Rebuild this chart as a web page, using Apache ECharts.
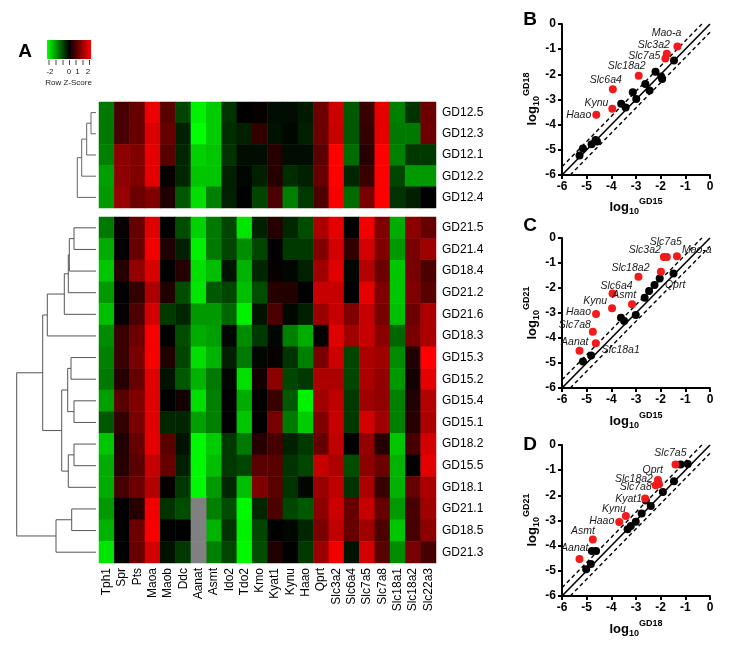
<!DOCTYPE html>
<html><head><meta charset="utf-8">
<script src="https://cdn.jsdelivr.net/npm/echarts@6/dist/echarts.min.js"></script>
<style>html,body{margin:0;padding:0;background:#fff}#main{width:732px;height:646px}</style>
</head><body><div id="main"></div>
<script>
// ---------------- DATA ----------------
const genes = ['Tph1','Spr','Pts','Maoa','Maob','Ddc','Aanat','Asmt','Ido2','Tdo2','Kmo','Kyat1','Kynu','Haao','Qprt','Slc3a2','Slc6a4','Slc7a5','Slc7a8','Slc18a1','Slc18a2','Slc22a3'];
const samplesTop = ['GD12.5','GD12.3','GD12.1','GD12.2','GD12.4'];
const samplesBottom = ['GD21.5','GD21.4','GD18.4','GD21.2','GD21.6','GD18.3','GD15.3','GD15.2','GD15.4','GD15.1','GD18.2','GD15.5','GD18.1','GD21.1','GD18.5','GD21.3'];

const zTop = [
 [-0.95,0.55,0.8,1.85,0.7,-0.55,-1.9,-1.6,-0.4,0,0.05,-0.1,-0.1,-0.2,0.85,1.6,-0.7,0.45,1.8,-1.0,-0.4,0.85],
 [-0.95,0.55,0.8,1.7,0.8,-0.25,-2.0,-1.6,-0.35,-0.25,0.4,-0.15,-0.05,-0.25,0.85,1.55,-0.7,0.4,1.8,-0.95,-0.95,0.85],
 [-1.0,1.1,1.0,1.8,0.7,-0.3,-1.65,-1.55,-0.4,-0.1,-0.1,0.3,-0.1,-0.1,0.7,2.0,-0.85,0.3,2.0,-1.0,-0.45,-0.45],
 [-1.25,1.1,1.0,1.8,0.05,-0.3,-1.55,-1.55,-0.25,-0.05,-0.25,0.3,-0.35,-0.25,0.8,2.0,-0.3,0.45,2.0,-0.55,-1.2,-1.2],
 [-1.2,1.2,0.85,1.0,0.25,-0.7,-1.75,-1.0,-0.25,0,-0.55,0.6,-1.0,-0.45,0.6,1.95,-0.85,0.95,2.0,-0.4,-0.25,0]
];
const zBottom = [
 [-0.95,0.05,0.8,1.75,0,-0.6,-1.65,-0.95,-0.55,-1.8,-0.25,0.3,-0.3,-0.6,1.35,1.8,0,1.9,1.0,-1.35,1.1,0.8],
 [-1.35,0,0.8,1.9,0.25,-0.25,-1.9,-0.95,-0.55,-1.1,-0.55,0,-0.45,-0.45,1.0,1.65,0.4,1.65,1.0,-1.2,0.95,1.25],
 [-1.55,0.3,1.15,1.7,0,0.3,-1.75,-1.5,-0.15,-1.4,-0.3,0.05,-0.05,-0.25,1.25,1.75,-0.05,1.4,0.85,-1.55,0.95,0.6],
 [-1.2,0,0.4,1.35,0.25,-0.6,-1.8,-0.7,-0.55,-1.5,-0.6,0.3,0.25,0,1.55,1.55,0,1.8,1.0,-1.55,1.0,0.7],
 [-1.5,0.05,0.6,1.65,-0.45,-0.3,-1.2,-1.2,-0.8,-1.9,-0.15,0.6,-0.05,-0.25,1.2,1.55,1.0,1.55,0.95,-1.5,0.85,1.35],
 [-1.1,0.45,0.85,1.95,0,-0.6,-1.35,-1.25,-0.05,-1.1,-0.45,-0.05,-1.0,-1.35,0,1.75,1.25,1.55,1.1,-0.8,0.95,1.35],
 [-1.0,0.45,0.95,1.95,0.25,-0.55,-1.75,-1.4,-0.25,-0.95,-0.05,0.05,-0.4,-1.0,0.95,1.6,-0.55,1.35,1.25,-1.1,0.25,2.0],
 [-0.95,0.3,0.8,1.75,-0.15,-0.7,-1.4,-0.95,-0.05,-1.75,0.15,1.1,-0.55,-0.45,1.35,1.35,-0.55,1.35,1.15,-1.2,0.15,1.8],
 [-1.25,0.7,1.0,1.75,0,0.15,-1.75,-1.0,0,-1.35,0,0.45,-0.7,-1.9,1.25,1.5,-0.45,1.25,1.15,-1.0,0.25,1.4],
 [-0.7,0.4,0.95,1.75,-0.3,-0.3,-1.25,-1.0,0,-1.55,0,0.95,-0.95,-1.6,1.0,1.55,-0.45,1.65,1.25,-1.0,0.3,1.35],
 [-1.55,0.25,0.8,1.8,0.7,-0.15,-1.95,-1.6,-0.45,-0.95,0.3,0.55,-0.25,-0.45,0.8,1.5,0,1.15,0.3,-1.55,0.55,1.65],
 [-1.35,0.3,0.7,1.55,0.8,-0.25,-1.95,-1.5,-0.45,-0.55,0.7,0.7,-0.4,-0.55,1.55,1.35,-0.6,1.1,0.85,-1.4,0,1.8],
 [-1.35,0.55,0.85,1.4,0.05,-0.45,-1.95,-1.2,-0.3,-1.5,1.0,0.7,-0.4,-0.05,1.2,1.5,-0.4,1.35,0.45,-1.4,0.8,1.35],
 [-1.2,0,0.3,1.9,-0.4,-0.6,null,-1.0,-0.6,-1.95,-0.3,0.6,-0.55,-0.7,1.1,1.6,0.8,1.55,0.8,-1.2,0.55,1.25],
 [-1.4,0,0.85,1.95,0,0,null,-1.4,-0.4,-1.9,-0.55,0,-0.05,-0.3,0.95,1.5,0.8,1.25,0.6,-1.55,0.55,1.1],
 [-1.8,0,0.8,1.65,-0.15,-0.45,null,-1.0,-0.55,-1.95,-0.6,0.25,0,-0.45,1.2,1.9,-0.15,1.65,0.7,-1.1,0.95,0.55]
];

// dendrogram merges: [childA, childB, height]; leaves 0..n-1, merged nodes n, n+1, ...
const linkTop = [[0,1,0.5],[5,2,0.93],[6,3,1.43],[7,4,1.87]];
const linkBottom = [
 [0,1,2.2],[16,2,2.67],[17,3,2.77],[18,4,3.17],[19,5,4.87],
 [6,7,2.5],[8,9,2.2],[21,22,2.83],[10,11,2.2],[24,12,2.77],[23,25,3.43],
 [20,26,5.33],[13,14,2.43],[28,15,4.0],[27,29,7.93]
];

// scatter panels: [log10 x, log10 y, gene]
const bRed = [[-1.32,-0.89,'Mao-a'],[-1.75,-1.18,'Slc3a2'],[-1.81,-1.37,'Slc7a5'],[-2.89,-2.06,'Slc18a2'],[-3.94,-2.59,'Slc6a4'],[-3.96,-3.37,'Kynu'],[-4.61,-3.61,'Haao']];
const bBlack = [[-1.46,-1.45],[-2.21,-1.90],[-1.98,-2.09],[-1.94,-2.19],[-2.62,-2.38],[-2.45,-2.64],[-3.13,-2.71],[-2.99,-2.98],[-3.60,-3.17],[-3.42,-3.32],[-4.64,-4.61],[-4.80,-4.78],[-4.58,-4.67],[-5.15,-4.95],[-5.29,-5.23]];
const cRed = [[-1.75,-0.76,'Slc7a5'],[-1.87,-0.76,'Slc3a2'],[-1.34,-0.73,'Mao-a'],[-1.99,-1.35,'Qprt'],[-2.90,-1.55,'Slc18a2'],[-3.95,-2.22,'Slc6a4'],[-3.16,-2.65,'Asmt'],[-3.97,-2.81,'Kynu'],[-4.62,-3.04,'Haao'],[-4.75,-3.75,'Slc7a8'],[-5.29,-4.51,'Aanat'],[-4.63,-4.21,'Slc18a1']];
const cBlack = [[-1.48,-1.42],[-2.04,-1.62],[-2.25,-1.88],[-2.47,-2.12],[-2.65,-2.39],[-3.01,-3.08],[-3.61,-3.19],[-3.48,-3.32],[-4.82,-4.70],[-5.15,-4.94]];
const dRed = [[-1.40,-0.77,'Slc7a5'],[-2.11,-1.39,'Qprt'],[-2.07,-1.55,'Slc18a2'],[-2.20,-1.60,'Slc7a8'],[-2.63,-2.13,'Kyat1'],[-3.41,-2.82,'Kynu'],[-3.68,-3.06,'Haao'],[-4.75,-3.75,'Asmt'],[-5.29,-4.53,'Aanat']];
const dBlack = [[-1.19,-0.77],[-0.90,-0.75],[-1.46,-1.44],[-1.91,-1.87],[-2.60,-2.21],[-2.40,-2.42],[-2.77,-2.72],[-3.01,-3.05],[-3.21,-3.22],[-3.34,-3.35],[-4.79,-4.21],[-4.62,-4.21],[-4.83,-4.73],[-5.02,-4.94]];
const foldBand = 0.33;
const zTicks = ['-2','0','1','2'];

// ---------------- STYLE (label placement: dx, dy, side) ----------------
const labB = {'Mao-a':[4,-13,'r'],'Slc3a2':[3,-9,'r'],'Slc7a5':[-5,-2,'r'],'Slc18a2':[7,-10,'r'],'Slc6a4':[9,-9,'r'],'Kynu':[-4,-6,'r'],'Haao':[-5,0,'r']};
const labC = {'Slc7a5':[15,-15,'r'],'Slc3a2':[-3,-7,'r'],'Mao-a':[5,-6,'l'],'Qprt':[4,13,'l'],'Slc18a2':[11,-9,'r'],'Slc6a4':[20,-7,'r'],'Asmt':[4,-9,'r'],'Kynu':[-5,-7,'r'],'Haao':[-5,-2,'r'],'Slc7a8':[-2,-7,'r'],'Aanat':[9,-9,'r'],'Slc18a1':[6,7,'l']};
const labD = {'Slc7a5':[11,-11,'r'],'Qprt':[5,-10,'r'],'Slc18a2':[-6,-5,'r'],'Slc7a8':[-4,2,'r'],'Kyat1':[-3,0,'r'],'Kynu':[0,-7,'r'],'Haao':[-5,-1,'r'],'Asmt':[2,-8,'r'],'Aanat':[9,-11,'r']};

const FONT = '"Liberation Sans", Arial, Helvetica, sans-serif';

function heatData(mat){
  const d=[], miss=[];
  mat.forEach((row,r)=>row.forEach((v,c)=>{ if(v===null) miss.push([c,r,0]); else d.push([c,r,v]); }));
  return {d, miss};
}
function dendro(n, links){
  const pos=[]; for(let i=0;i<n;i++) pos.push([0,i]);
  const segs=[];
  links.forEach(([a,b,h])=>{
    const A=pos[a], B=pos[b];
    segs.push({coords:[[A[0],A[1]],[h,A[1]],[h,B[1]],[B[0],B[1]]]});
    pos.push([h,(A[1]+B[1])/2]);
  });
  return segs;
}
const SYM = 8;
function redData(arr, lab){
  return arr.map(p=>{
    const o = lab[p[2]] || [0,0,'r'];
    return {value:[p[0],p[1]], name:p[2], label:{position:[o[0]+SYM/2, o[1]+SYM/2], align:o[2]==='r'?'right':'left'}};
  });
}
function scatterAxes(gi){
  const common = {
    type:'value', gridIndex:gi, min:-6, max:0, interval:1,
    axisLine:{show:true,onZero:false,lineStyle:{color:'#000',width:2}},
    axisTick:{show:true,length:4,lineStyle:{color:'#000',width:2}},
    axisLabel:{color:'#000',fontWeight:'bold',fontSize:12,fontFamily:FONT,margin:6},
    splitLine:{show:false}
  };
  return {x:Object.assign({},common), y:Object.assign({},common)};
}
function panelSeries(gi, red, black, lab){
  const base = {xAxisIndex:gi, yAxisIndex:gi, silent:true, animation:false};
  return [
    Object.assign({type:'line', data:[[-6,-6],[0,0]], symbol:'none', lineStyle:{color:'#000',width:1.6}}, base),
    Object.assign({type:'line', data:[[-6,-6+foldBand],[-foldBand,0]], symbol:'none', lineStyle:{color:'#000',width:1.4,type:[4,3]}}, base),
    Object.assign({type:'line', data:[[-6+foldBand,-6],[0,-foldBand]], symbol:'none', lineStyle:{color:'#000',width:1.4,type:[4,3]}}, base),
    Object.assign({type:'scatter', data:black, symbolSize:SYM, itemStyle:{color:'#000', opacity:1}, z:3}, base),
    Object.assign({type:'scatter', data:redData(red, lab), symbolSize:SYM, itemStyle:{color:'#f21a1a', opacity:1}, z:4,
      label:{show:true, formatter:'{b}', fontSize:10.5, fontStyle:'italic', fontFamily:FONT, color:'#1a1a1a', opacity:1, verticalAlign:'middle'}}, base)
  ];
}

const measCtx = document.createElement('canvas').getContext('2d');
function tw(t, f){ measCtx.font=f; return measCtx.measureText(t).width; }
function axisTitle(cx, cy, sub, sup, vertical){
  const fMain = 'bold 13px ' + FONT, fSmall = 'bold 9px ' + FONT;
  const w1 = tw('log', fMain), w2 = tw(sub, fSmall), w3 = tw(sup, fSmall);
  const x0 = -(w1+w2+w3)/2;
  const mk = (t, x, y, f) => ({type:'text', style:{text:t, x:x, y:y, font:f, fill:'#000', align:'left', textAlign:'left', verticalAlign:'middle', textVerticalAlign:'middle'}});
  return {type:'group', x:cx, y:cy, rotation: vertical ? Math.PI/2 : 0, silent:true,
    children:[mk('log', x0, 0, fMain), mk(sub, x0+w1, 5, fSmall), mk(sup, x0+w1+w2, -5, fSmall)]};
}
function letter(t, x, y){
  return {type:'text', silent:true, style:{text:t, x:x, y:y, font:'bold 19px ' + FONT, fill:'#000', align:'center', textAlign:'center', verticalAlign:'middle', textVerticalAlign:'middle'}};
}

const ht = heatData(zTop), hb = heatData(zBottom);
const aB = scatterAxes(4), aC = scatterAxes(5), aD = scatterAxes(6);

// color key ticks
const keyTickX = [49,56,63,69.5,76,83,89.5];
const keyLabelX = [50,69,77.5,88];
const graphics = [
  letter('A', 25, 52), letter('B', 530, 20), letter('C', 530, 226), letter('D', 530, 445),
  {type:'rect', silent:true, shape:{x:47, y:40, width:44, height:19},
   style:{fill:new echarts.graphic.LinearGradient(0,0,1,0,[{offset:0,color:'#00ff00'},{offset:0.5,color:'#000000'},{offset:1,color:'#ff0000'}])}},
  ...keyTickX.map(x=>({type:'line', silent:true, shape:{x1:x,y1:60,x2:x,y2:65}, style:{stroke:'#444', lineWidth:1}})),
  ...zTicks.map((t,i)=>({type:'text', silent:true, style:{text:t, x:keyLabelX[i], y:72, font:'8px '+FONT, fill:'#222', align:'center', textAlign:'center', verticalAlign:'middle', textVerticalAlign:'middle'}})),
  {type:'text', silent:true, style:{text:'Row Z-Score', x:68.5, y:83, font:'8px '+FONT, fill:'#222', align:'center', textAlign:'center', verticalAlign:'middle', textVerticalAlign:'middle'}},
  axisTitle(636, 207, '10', 'GD15', false), axisTitle(532, 99, '10', 'GD18', true),
  axisTitle(636, 421, '10', 'GD15', false), axisTitle(532, 313, '10', 'GD21', true),
  axisTitle(636, 629, '10', 'GD18', false), axisTitle(532, 520, '10', 'GD21', true)
];

const heatLabel = {color:'#000', fontSize:12, fontFamily:FONT};
const option = {
  backgroundColor:'#fff',
  animation:false,
  grid:[
    {left:99, top:102, width:337, height:106},
    {left:99, top:217, width:337, height:346},
    {left:10, top:102, width:86, height:106},
    {left:10, top:217, width:86, height:346},
    {left:562, top:24, width:148, height:151},
    {left:562, top:238, width:148, height:150},
    {left:562, top:445, width:148, height:151}
  ],
  xAxis:[
    {type:'category', gridIndex:0, data:genes, show:false},
    {type:'category', gridIndex:1, data:genes, position:'bottom', axisLine:{show:false}, axisTick:{show:false},
      axisLabel:Object.assign({rotate:90, interval:0, margin:5}, heatLabel)},
    {type:'value', gridIndex:2, min:0, max:8.6, inverse:true, show:false},
    {type:'value', gridIndex:3, min:0, max:8.6, inverse:true, show:false},
    aB.x, aC.x, aD.x
  ],
  yAxis:[
    {type:'category', gridIndex:0, data:samplesTop, inverse:true, position:'right', axisLine:{show:false}, axisTick:{show:false},
      axisLabel:Object.assign({margin:6, interval:0}, heatLabel)},
    {type:'category', gridIndex:1, data:samplesBottom, inverse:true, position:'right', axisLine:{show:false}, axisTick:{show:false},
      axisLabel:Object.assign({margin:6, interval:0}, heatLabel)},
    {type:'value', gridIndex:2, min:-0.5, max:samplesTop.length-0.5, inverse:true, show:false},
    {type:'value', gridIndex:3, min:-0.5, max:samplesBottom.length-0.5, inverse:true, show:false},
    aB.y, aC.y, aD.y
  ],
  visualMap:{type:'continuous', show:false, min:-2, max:2, dimension:2, seriesIndex:[0,1],
    inRange:{color:['#00ff00','#000000','#ff0000']}},
  graphic:graphics,
  series:[
    {type:'heatmap', xAxisIndex:0, yAxisIndex:0, data:ht.d, silent:true, progressive:0},
    {type:'heatmap', xAxisIndex:1, yAxisIndex:1, data:hb.d, silent:true, progressive:0},
    {type:'heatmap', xAxisIndex:1, yAxisIndex:1, data:hb.miss, silent:true, itemStyle:{color:'#808080'}},
    {type:'lines', coordinateSystem:'cartesian2d', xAxisIndex:2, yAxisIndex:2, polyline:true, silent:true,
      data:dendro(samplesTop.length, linkTop), lineStyle:{color:'#666', width:1, opacity:1}},
    {type:'lines', coordinateSystem:'cartesian2d', xAxisIndex:3, yAxisIndex:3, polyline:true, silent:true,
      data:dendro(samplesBottom.length, linkBottom), lineStyle:{color:'#555', width:1, opacity:1}},
    ...panelSeries(4, bRed, bBlack, labB),
    ...panelSeries(5, cRed, cBlack, labC),
    ...panelSeries(6, dRed, dBlack, labD)
  ]
};
const chart = echarts.init(document.getElementById('main'));
chart.setOption(option);
</script></body></html>
